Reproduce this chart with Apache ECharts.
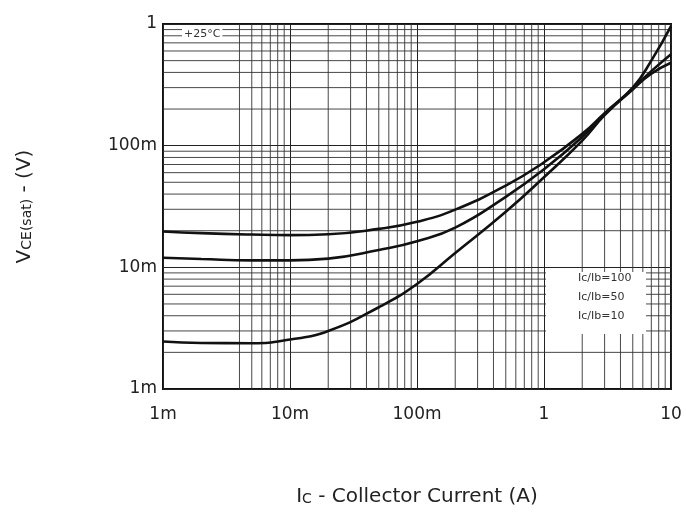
<!DOCTYPE html>
<html>
<head>
<meta charset="utf-8">
<script src="https://cdn.jsdelivr.net/npm/echarts@6/dist/echarts.min.js"></script>
<style>html,body{margin:0;padding:0;background:#fff;}#c{width:686px;height:512px;}</style>
</head>
<body>
<div id="c"></div>
<script>
// Collector current (A)
const current = [0.001, 0.002, 0.005, 0.01, 0.02, 0.05, 0.1, 0.2, 0.5, 1, 2, 3, 5, 7, 10];
// VCE(sat) in volts for each Ic/Ib ratio
const vce100 = [0.0197, 0.0191, 0.0186, 0.0184, 0.0187, 0.0207, 0.0237, 0.0298, 0.047, 0.073, 0.125, 0.185, 0.300, 0.50, 0.96];
const vce50  = [0.0120, 0.0117, 0.0114, 0.0114, 0.0118, 0.0139, 0.0164, 0.0212, 0.038, 0.064, 0.118, 0.182, 0.295, 0.41, 0.565];
const vce10  = [0.00246, 0.00239, 0.00238, 0.00255, 0.0030, 0.0047, 0.0073, 0.0131, 0.0286, 0.055, 0.110, 0.178, 0.290, 0.39, 0.48];
const seriesNames = ['Ic/Ib=100', 'Ic/Ib=50', 'Ic/Ib=10'];
const xTickLabels = ['1m', '10m', '100m', '1', '10'];
const yTickLabels = ['1m', '10m', '100m', '1'];
const xDecades = [0.001, 0.01, 0.1, 1];
const yDecades = [0.001, 0.01, 0.1];
const minorMult = [2, 3, 4, 5, 6, 7, 8, 9];
const xRange = [0.001, 10];
const yRange = [0.001, 1];

const pairs = arr => current.map((c, i) => [c, arr[i]]);

const xMinor = [];
xDecades.forEach((d, di) => minorMult.forEach(m => { if (!(di === 0 && m < 4)) xMinor.push(d * m); }));
const yMinor = [];
yDecades.forEach(d => minorMult.forEach(m => yMinor.push(d * m)));

const gridStyle = {color: '#333', width: 0.9};
const gridSeries = [];
xMinor.forEach(v => gridSeries.push({type: 'line', silent: true, showSymbol: false, z: 1, lineStyle: gridStyle,
  data: [[v, yRange[0]], [v, yRange[1]]]}));
yMinor.forEach(v => gridSeries.push({type: 'line', silent: true, showSymbol: false, z: 1, lineStyle: gridStyle,
  data: [[xRange[0], v], [xRange[1], v]]}));

const fontFam = 'DejaVu Sans, Liberation Sans, Arial, sans-serif';
const chart = echarts.init(document.getElementById('c'));
const curveStyle = {color: '#111', width: 2.6};

chart.setOption({
  animation: false,
  backgroundColor: '#fff',
  grid: {left: 163, right: 15, top: 24, bottom: 120, show: true, borderColor: '#111', borderWidth: 2, backgroundColor: 'transparent'},
  xAxis: {
    type: 'log', logBase: 10, min: xRange[0], max: xRange[1],
    axisLine: {show: false}, axisTick: {show: false},
    splitLine: {show: true, lineStyle: {color: '#222', width: 1}},
    axisLabel: {margin: 17, color: '#222', fontSize: 17, fontFamily: fontFam,
      formatter: v => xTickLabels[Math.round(Math.log10(v)) + 3]},
    name: '{a|I}{b|C}{a| - Collector Current (A)}',
    nameLocation: 'middle', nameGap: 98,
    nameTextStyle: {rich: {a: {fontSize: 20, color: '#222', fontFamily: fontFam}, b: {fontSize: 14, color: '#222', fontFamily: fontFam, padding: [4, 0, 0, 0]}}}
  },
  yAxis: {
    type: 'log', logBase: 10, min: yRange[0], max: yRange[1],
    axisLine: {show: false}, axisTick: {show: false},
    splitLine: {show: true, lineStyle: {color: '#222', width: 1}},
    axisLabel: {margin: 6, color: '#222', fontSize: 17, fontFamily: fontFam,
      formatter: v => yTickLabels[Math.round(Math.log10(v)) + 3]},
    name: '{a|V}{b|CE(sat)}{a| - (V)}',
    nameLocation: 'middle', nameGap: 128,
    nameTextStyle: {rich: {a: {fontSize: 20, color: '#222', fontFamily: fontFam}, b: {fontSize: 14, color: '#222', fontFamily: fontFam, padding: [4, 0, 0, 0]}}}
  },
  graphic: [
    {type: 'text', left: 182, top: 28, z: 21, style: {text: '+25°C', fontSize: 11, fill: '#333', fontFamily: fontFam, backgroundColor: '#fff', padding: [1, 2]}},
    {type: 'rect', left: 546, top: 272, z: 20, shape: {width: 100, height: 62}, style: {fill: '#fff'}},
    {type: 'text', left: 578, top: 273, z: 21, style: {text: seriesNames[0], fontSize: 11, fill: '#333', fontFamily: fontFam}},
    {type: 'text', left: 578, top: 292, z: 21, style: {text: seriesNames[1], fontSize: 11, fill: '#333', fontFamily: fontFam}},
    {type: 'text', left: 578, top: 311, z: 21, style: {text: seriesNames[2], fontSize: 11, fill: '#333', fontFamily: fontFam}}
  ],
  series: gridSeries.concat([
    {name: seriesNames[0], type: 'line', smooth: true, showSymbol: false, data: pairs(vce100), lineStyle: curveStyle, z: 30},
    {name: seriesNames[1], type: 'line', smooth: true, showSymbol: false, data: pairs(vce50), lineStyle: curveStyle, z: 30},
    {name: seriesNames[2], type: 'line', smooth: true, showSymbol: false, data: pairs(vce10), lineStyle: curveStyle, z: 30}
  ])
});
</script>
</body>
</html>
